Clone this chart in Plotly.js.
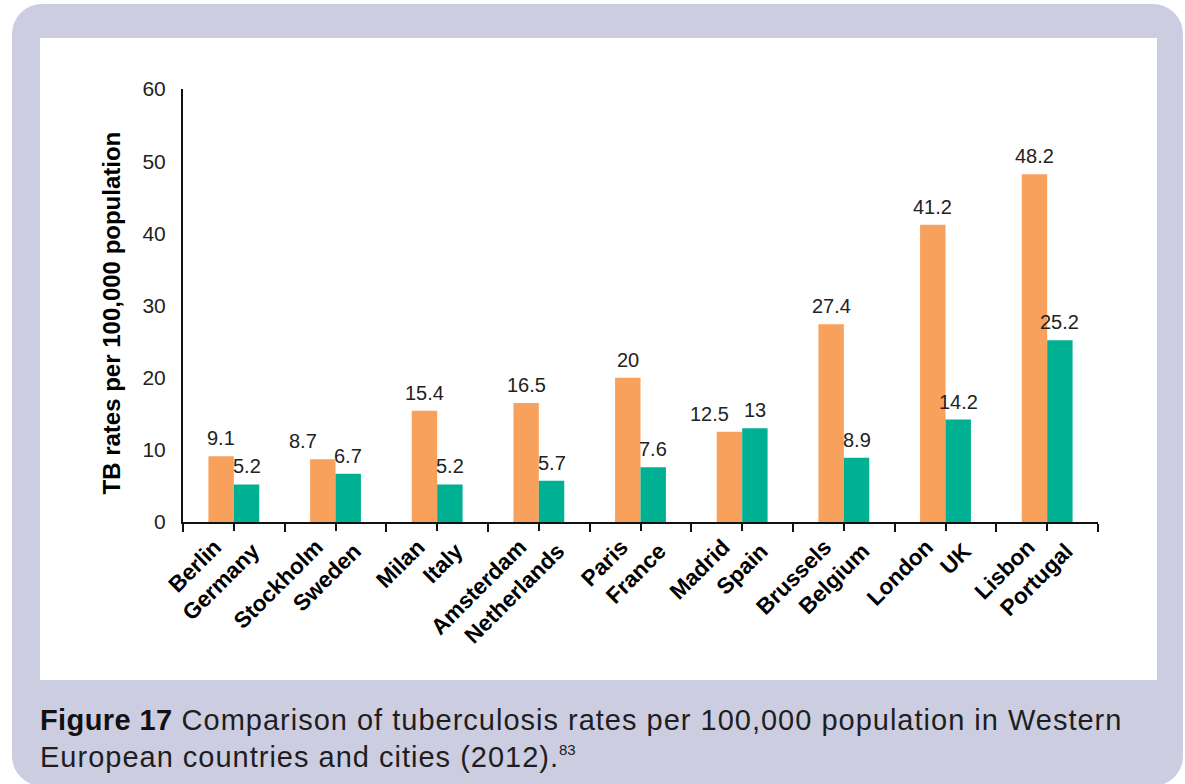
<!DOCTYPE html>
<html>
<head>
<meta charset="utf-8">
<script src="https://cdn.plot.ly/plotly-3.0.1.min.js"></script>
<style>
  html, body { margin: 0; padding: 0; background: #ffffff; width: 1185px; height: 784px; overflow: hidden; }
  #frame { position: absolute; left: 12px; top: 4px; width: 1171px; height: 782px; background: #cdcde2; border-radius: 30px; }
  #chart { position: absolute; left: 40px; top: 38px; width: 1117px; height: 642px; background: #ffffff; }
  #caption { position: absolute; left: 40px; top: 702px; width: 1140px; white-space: nowrap; font-family: "Liberation Sans", Arial, sans-serif; font-size: 29px; letter-spacing: 1px; line-height: 37px; color: #1e1e1e; }
  #caption b { font-weight: bold; letter-spacing: 0.4px; color: #111; }
  #caption sup { font-size: 15px; vertical-align: 0; position: relative; top: -12px; letter-spacing: 0; }
</style>
</head>
<body>
<div id="frame"></div>
<div id="chart"></div>
<div id="caption"><b>Figure 17</b> Comparison of tuberculosis rates per 100,000 population in Western<br>European countries and cities (2012).<sup>83</sup></div>
<script>
// ---- data ----
var cities    = ["Berlin", "Stockholm", "Milan", "Amsterdam", "Paris", "Madrid", "Brussels", "London", "Lisbon"];
var countries = ["Germany", "Sweden", "Italy", "Netherlands", "France", "Spain", "Belgium", "UK", "Portugal"];
var cityRates    = [9.1, 8.7, 15.4, 16.5, 20, 12.5, 27.4, 41.2, 48.2];
var countryRates = [5.2, 6.7, 5.2, 5.7, 7.6, 13, 8.9, 14.2, 25.2];
var yTicks = [0, 10, 20, 30, 40, 50, 60];
var yTitle = "TB rates per 100,000 population";

// ---- build ----
var idx = cities.map(function (_, i) { return i; });
var BARGAP = 0.5;
var half = (1 - BARGAP) / 4;   // offset of each bar centre from the category centre (data units)

var valueFont = { family: "Liberation Sans, Arial, sans-serif", size: 20, color: "#222222" };
var labelFont = { family: "Liberation Sans, Arial, sans-serif", size: 22.5, color: "#000000", weight: "bold" };

var traces = [
  { type: "bar", name: "City", x: cities, y: cityRates,
    marker: { color: "#f7a15d", line: { width: 0 } }, hoverinfo: "x+y" },
  { type: "bar", name: "Country", x: cities, y: countryRates,
    marker: { color: "#00b092", line: { width: 0 } }, hoverinfo: "x+y" },
  // carrier for the second (country-label) x axis; draws nothing
  { type: "scatter", mode: "none", x: idx, y: countryRates, xaxis: "x2", yaxis: "y",
    hoverinfo: "skip", showlegend: false }
];

// value labels above the bars
var annotations = [];
idx.forEach(function (i) {
  var close = Math.abs(cityRates[i] - countryRates[i]) < 3;
  annotations.push({ x: i - half, y: cityRates[i], xref: "x", yref: "y", text: String(cityRates[i]),
    showarrow: false, yanchor: "bottom", yshift: 5, xshift: close ? -20 : 0, font: valueFont });
  annotations.push({ x: i + half, y: countryRates[i], xref: "x", yref: "y", text: String(countryRates[i]),
    showarrow: false, yanchor: "bottom", yshift: 5, font: valueFont });
});
// y-axis title
annotations.push({ xref: "paper", yref: "paper", x: 0, y: 0.5, xshift: -72, yshift: -8,
  xanchor: "center", yanchor: "middle", textangle: -90, showarrow: false, text: yTitle,
  font: { family: "Liberation Sans, Arial, sans-serif", size: 24, color: "#000000", weight: "bold" } });

var layout = {
  width: 1117, height: 642,
  margin: { l: 143, r: 59, t: 51, b: 158 },
  paper_bgcolor: "#ffffff", plot_bgcolor: "#ffffff",
  showlegend: false,
  barmode: "group", bargap: BARGAP, bargroupgap: 0,
  font: { family: "Liberation Sans, Arial, sans-serif", color: "#222222" },
  annotations: annotations,
  xaxis: {
    type: "category", categoryarray: cities, range: [-0.5, cities.length - 0.5],
    showline: true, linecolor: "#111111", linewidth: 2,
    ticks: "outside", tickson: "boundaries", ticklen: 8, tickwidth: 2, tickcolor: "#111111",
    tickangle: -45, tickfont: labelFont, ticklabelshift: -19, ticklabelstandoff: 1,
    showgrid: false, zeroline: false, fixedrange: true
  },
  xaxis2: {
    overlaying: "x", anchor: "y", side: "bottom", range: [-0.5, cities.length - 0.5],
    tickmode: "array", tickvals: idx, ticktext: countries,
    tickangle: -45, tickfont: labelFont, ticklabelshift: 19, ticklabelstandoff: -2,
    ticks: "outside", ticklen: 8, tickwidth: 2, tickcolor: "#111111",
    showline: false, showgrid: false, zeroline: false, fixedrange: true
  },
  yaxis: {
    range: [0, 60], tickmode: "array", tickvals: yTicks,
    showline: true, linecolor: "#111111", linewidth: 2,
    ticks: "", ticklabelstandoff: 11,
    tickfont: { family: "Liberation Sans, Arial, sans-serif", size: 21, color: "#222222" },
    showgrid: false, zeroline: false, fixedrange: true
  }
};

Plotly.newPlot("chart", traces, layout, { displayModeBar: false, staticPlot: true });
</script>
</body>
</html>
